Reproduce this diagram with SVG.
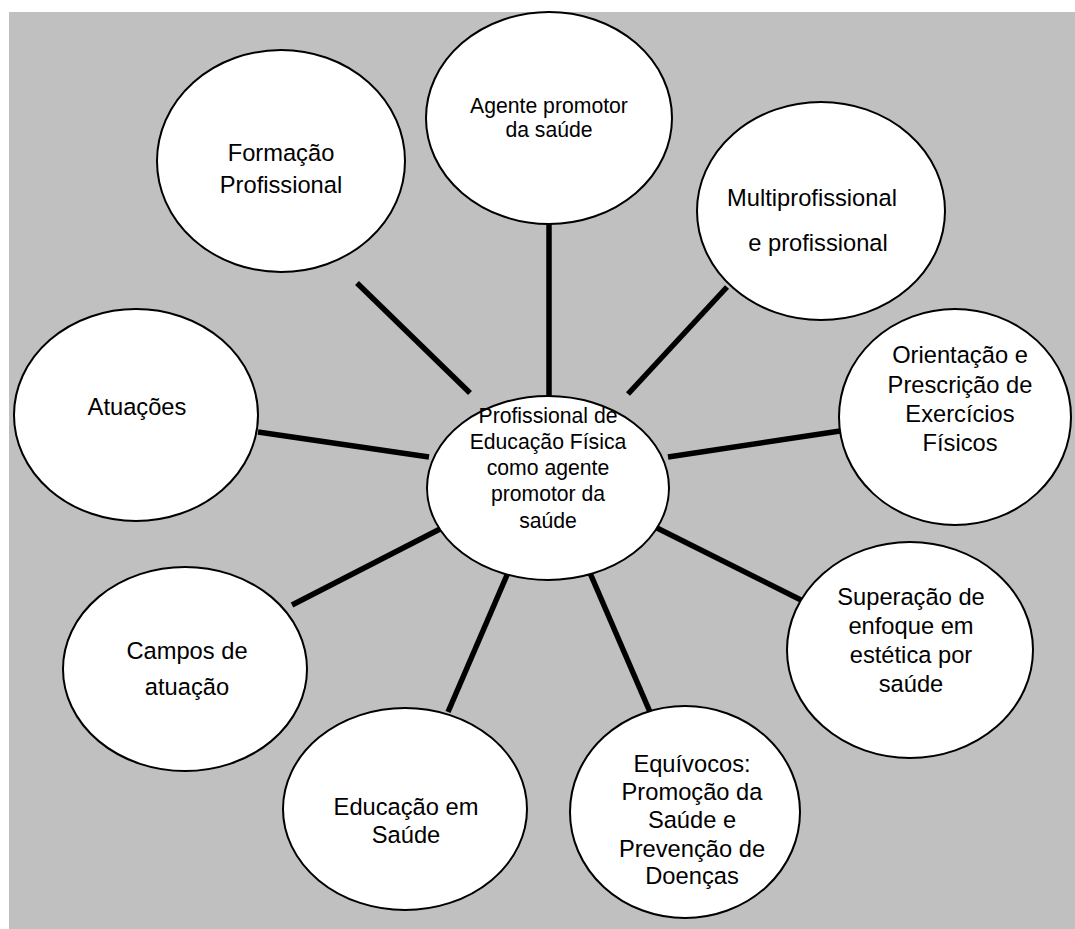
<svg xmlns="http://www.w3.org/2000/svg" width="1075" height="929" viewBox="0 0 1075 929">
<style>
.bg{fill:#c0c0c0}
.n{fill:#fff;stroke:#000;stroke-width:2}
.c{stroke:#000;stroke-width:5.5;stroke-linecap:butt}
text{font-family:"Liberation Sans",Arial,sans-serif;font-size:23.7px;fill:#000;text-anchor:middle}
.s{font-size:21.2px}
</style>
<rect class="bg" x="9" y="12" width="1066" height="917"/>
<g id="connectors">
<line class="c" x1="549" y1="223" x2="549" y2="397"/>
<line class="c" x1="357" y1="283" x2="470" y2="393"/>
<line class="c" x1="727" y1="287" x2="628" y2="394"/>
<line class="c" x1="258" y1="432" x2="429" y2="457"/>
<line class="c" x1="840" y1="431" x2="668" y2="457"/>
<line class="c" x1="655" y1="527" x2="805" y2="602"/>
<line class="c" x1="590" y1="573" x2="650" y2="712"/>
<line class="c" x1="507" y1="575" x2="448" y2="712"/>
<line class="c" x1="442" y1="528" x2="292" y2="605"/>
</g>
<g id="n-agente">
<ellipse class="n" cx="549" cy="118" rx="123" ry="106"/>
<text class="s" x="549" y="113">Agente promotor</text>
<text class="s" x="549" y="137">da saúde</text>
</g>
<g id="n-formacao">
<ellipse class="n" cx="281" cy="161" rx="124" ry="111"/>
<text x="281" y="161">Formação</text>
<text x="281" y="193">Profissional</text>
</g>
<g id="n-multi">
<ellipse class="n" cx="821" cy="211" rx="124" ry="109"/>
<text x="812" y="206">Multiprofissional</text>
<text x="818" y="251">e profissional</text>
</g>
<g id="n-atuacoes">
<ellipse class="n" cx="136" cy="415" rx="122" ry="106"/>
<text x="137" y="415">Atuações</text>
</g>
<g id="n-orientacao">
<ellipse class="n" cx="955" cy="417" rx="116" ry="108"/>
<text x="960" y="363">Orientação e</text>
<text x="960" y="393">Prescrição de</text>
<text x="960" y="422">Exercícios</text>
<text x="960" y="451">Físicos</text>
</g>
<g id="n-superacao">
<ellipse class="n" cx="910" cy="650" rx="123" ry="108"/>
<text x="911" y="605">Superação de</text>
<text x="911" y="634">enfoque em</text>
<text x="911" y="663">estética por</text>
<text x="911" y="692">saúde</text>
</g>
<g id="n-equivocos">
<ellipse class="n" cx="685" cy="812" rx="115" ry="106"/>
<text x="692" y="772">Equívocos:</text>
<text x="692" y="800">Promoção da</text>
<text x="692" y="828">Saúde e</text>
<text x="692" y="857">Prevenção de</text>
<text x="692" y="884">Doenças</text>
</g>
<g id="n-educacao">
<ellipse class="n" cx="405" cy="809" rx="122" ry="101"/>
<text x="406" y="815">Educação em</text>
<text x="406" y="843">Saúde</text>
</g>
<g id="n-campos">
<ellipse class="n" cx="185" cy="669" rx="122" ry="102"/>
<text x="187" y="659">Campos de</text>
<text x="187" y="695">atuação</text>
</g>
<g id="n-centro">
<ellipse class="n" cx="548" cy="488" rx="121" ry="92"/>
<text class="s" x="548" y="423">Profissional de</text>
<text class="s" x="548" y="449">Educação Física</text>
<text class="s" x="548" y="475">como agente</text>
<text class="s" x="548" y="501">promotor da</text>
<text class="s" x="548" y="528">saúde</text>
</g>
</svg>
